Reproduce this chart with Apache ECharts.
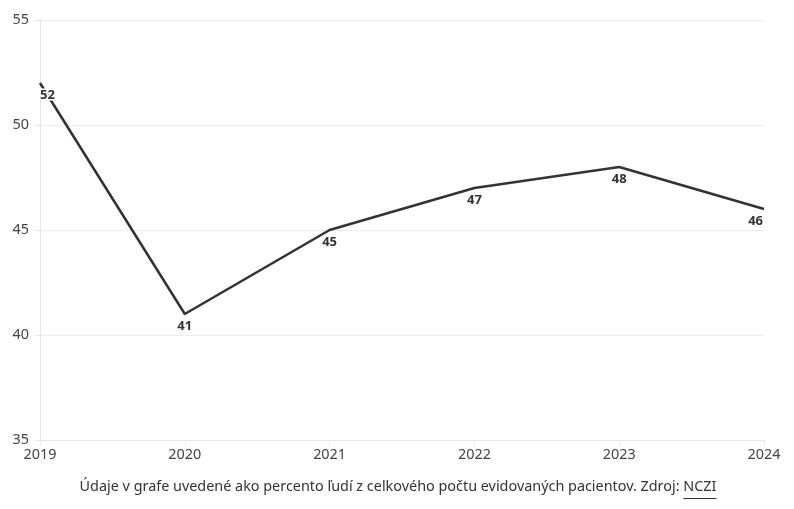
<!DOCTYPE html>
<html>
<head>
<meta charset="utf-8">
<script src="https://cdn.jsdelivr.net/npm/echarts@6/dist/echarts.min.js"></script>
<style>
html,body{margin:0;padding:0;background:#fff;}
#c{width:794px;height:509px;}
</style>
</head>
<body>
<div id="c"></div>
<script>
const years = ['2019','2020','2021','2022','2023','2024'];
const values = [52, 41, 45, 47, 48, 46];
const yTicks = {min: 35, max: 55, interval: 5};
const footerText = 'Údaje v grafe uvedené ako percento ľudí z celkového počtu evidovaných pacientov. Zdroj: ';
const footerLink = 'NCZI';

const FONT = '"Noto Sans", "Open Sans", sans-serif';
const FSIZE = 14.4;
const chart = echarts.init(document.getElementById('c'));

const cv = document.createElement('canvas').getContext('2d');
cv.font = FSIZE + 'px "Noto Sans"';
const w1 = cv.measureText(footerText).width;
const w2 = cv.measureText(footerLink).width;
const totalW = w1 + w2;
const fx = 398 - totalW / 2;
const fy = 490;

const data = values.map((v, i) => {
  const d = {value: v};
  if (i === 0) d.label = {align: 'left', offset: [0, 0]};
  if (i === values.length - 1) d.label = {align: 'right', offset: [-1, 0]};
  return d;
});

chart.setOption({
  animation: false,
  grid: {left: 40, right: 30, top: 20, bottom: 69, containLabel: false},
  xAxis: {
    type: 'category',
    data: years,
    boundaryGap: false,
    axisLine: {show: true, lineStyle: {color: '#e6e6e6', width: 1}},
    axisTick: {show: true, length: 5, lineStyle: {color: '#e6e6e6'}},
    axisLabel: {color: '#444', fontSize: FSIZE, fontFamily: FONT, margin: 8},
    splitLine: {show: false}
  },
  yAxis: {
    type: 'value',
    min: yTicks.min, max: yTicks.max, interval: yTicks.interval,
    axisLine: {show: true, lineStyle: {color: '#e6e6e6', width: 1}},
    axisTick: {show: true, length: 5, lineStyle: {color: '#e6e6e6'}},
    axisLabel: {color: '#444', fontSize: FSIZE, fontFamily: FONT, margin: 11},
    splitLine: {show: true, lineStyle: {color: '#ececec', width: 1}}
  },
  series: [{
    type: 'line',
    data: data,
    symbol: 'circle',
    symbolSize: 1,
    showSymbol: true,
    lineStyle: {color: '#333', width: 2.5},
    itemStyle: {color: 'rgba(0,0,0,0)'},
    label: {
      show: true,
      position: 'bottom',
      distance: 5,
      color: '#333',
      fontWeight: 'bold',
      fontSize: 13,
      fontFamily: FONT,
      textBorderColor: '#fff',
      textBorderWidth: 3
    },
    z: 3
  }],
  graphic: [
    {type: 'text', left: fx, top: fy - 10, style: {text: footerText, fill: '#333', font: FSIZE + 'px "Noto Sans"'}},
    {type: 'text', left: fx + w1, top: fy - 10, style: {text: footerLink, fill: '#333', font: FSIZE + 'px "Noto Sans"'}},
    {type: 'rect', shape: {x: fx + w1, y: fy + 8, width: w2, height: 1}, style: {fill: '#333'}}
  ]
});
</script>
</body>
</html>
